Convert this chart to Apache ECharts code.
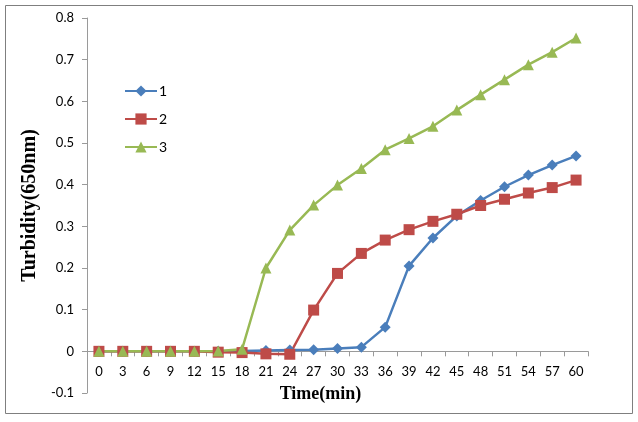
<!DOCTYPE html>
<html>
<head>
<meta charset="utf-8">
<script src="https://cdn.jsdelivr.net/npm/echarts@6/dist/echarts.min.js"></script>
<style>
html,body{margin:0;padding:0;background:#fff;}
#chart{width:638px;height:422px;}
</style>
</head>
<body>
<div id="chart"></div>
<script>
var categories = ['0','3','6','9','12','15','18','21','24','27','30','33','36','39','42','45','48','51','54','57','60'];
var series1 = [0, 0, 0, 0, 0, 0, 0.001, 0.002, 0.003, 0.004, 0.007, 0.010, 0.058, 0.205, 0.272, 0.325, 0.362, 0.395, 0.423, 0.447, 0.469];
var series2 = [0, 0, 0, 0, 0, -0.002, -0.003, -0.006, -0.007, 0.099, 0.187, 0.235, 0.267, 0.292, 0.312, 0.329, 0.350, 0.365, 0.380, 0.393, 0.411];
var series3 = [0, 0, 0, 0, 0, 0.001, 0.005, 0.200, 0.291, 0.351, 0.399, 0.439, 0.484, 0.511, 0.540, 0.579, 0.616, 0.652, 0.688, 0.718, 0.752];
var seriesNames = ['1', '2', '3'];
var yTicks = {min: -0.1, max: 0.8, interval: 0.1};

var chart = echarts.init(document.getElementById('chart'), null, {renderer: 'canvas'});
var axisColor = '#9a9a9a';
var labelFont = {fontFamily: 'Lato', fontSize: 13, color: '#000'};
var gridTop = 18, gridBottom = 29, H = 422;
var plotH = H - gridTop - gridBottom;
// distance from bottom of grid to the value 0 line
var zeroOffset = plotH * (0 - yTicks.min) / (yTicks.max - yTicks.min);
function mk(name, data, color, symbol, size) {
  return {
    name: name, type: 'line', data: data, symbol: symbol, symbolSize: size,
    lineStyle: {color: color, width: 2.5}, itemStyle: {color: color},
    animation: false
  };
}
chart.setOption({
  backgroundColor: '#fff',
  animation: false,
  graphic: [{
    type: 'rect', shape: {x: 5.5, y: 5.5, width: 627, height: 408},
    style: {fill: 'none', stroke: '#7f7f7f', lineWidth: 1}, silent: true
  }],
  grid: {left: 87, right: 50, top: gridTop, bottom: gridBottom, containLabel: false, outerBoundsMode: 'none'},
  legend: {
    orient: 'vertical', left: 119, top: 79, itemGap: 14,
    itemWidth: 32, itemHeight: 14,
    textStyle: {fontFamily: 'Lato', fontSize: 14, color: '#000', padding: [0, 0, 0, -3]},
    data: seriesNames
  },
  xAxis: {
    type: 'category', data: categories, boundaryGap: true, position: 'bottom',
    offset: -zeroOffset,
    name: 'Time(min)', nameLocation: 'middle', nameGap: 34,
    nameTextStyle: {fontFamily: 'Liberation Serif', fontWeight: 'bold', fontSize: 18, color: '#000', padding: [0, 34, 0, 0]},
    axisLine: {onZero: false, lineStyle: {color: axisColor, width: 1}},
    axisTick: {show: true, length: 5, inside: false, alignWithLabel: false, lineStyle: {color: axisColor}},
    axisLabel: Object.assign({margin: 14, interval: 0}, labelFont),
    splitLine: {show: false}
  },
  yAxis: {
    type: 'value', min: yTicks.min, max: yTicks.max, interval: yTicks.interval,
    name: 'Turbidity(650nm)', nameLocation: 'middle', nameRotate: 90, nameGap: 44,
    nameTextStyle: {fontFamily: 'Liberation Serif', fontWeight: 'bold', fontSize: 20, color: '#000'},
    axisLine: {show: true, lineStyle: {color: axisColor, width: 1}},
    axisTick: {show: true, length: 5, lineStyle: {color: axisColor}},
    axisLabel: Object.assign({margin: 13}, labelFont),
    splitLine: {show: false}
  },
  series: [
    mk(seriesNames[0], series1, '#4a7ebb', 'diamond', 11),
    mk(seriesNames[1], series2, '#be4b48', 'rect', 11),
    mk(seriesNames[2], series3, '#98b954', 'triangle', 11)
  ]
});
</script>
</body>
</html>
